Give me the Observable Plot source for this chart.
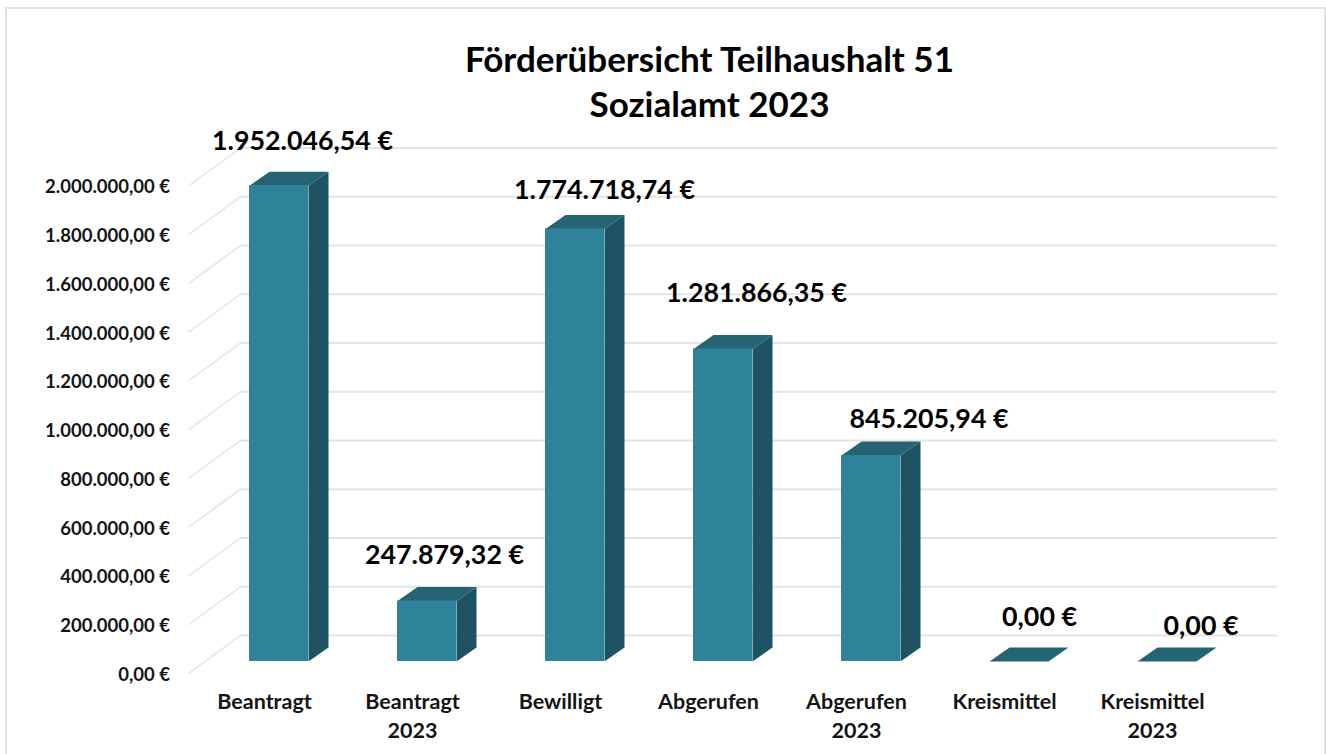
<!DOCTYPE html>
<html><head><meta charset="utf-8">
<script src="https://cdn.jsdelivr.net/npm/d3@7"></script>
<script src="https://cdn.jsdelivr.net/npm/@observablehq/plot@0.6"></script>
<style>
html,body{margin:0;padding:0;background:#fff;overflow:hidden}
#wrap{position:relative;width:1326px;height:754px}
#border{position:absolute;left:5px;top:7px;width:1321px;height:760px;border:2px solid #e2e2e2;box-sizing:border-box}
svg{position:absolute;left:0;top:0}
</style></head><body><div id="wrap"><div id="border"></div></div>
<script>
const categories = ["Beantragt","Beantragt\n2023","Bewilligt","Abgerufen","Abgerufen\n2023","Kreismittel","Kreismittel\n2023"];
const values = [1952046.54,247879.32,1774718.74,1281866.35,845205.94,0,0];
const valueLabels = ["1.952.046,54 €","247.879,32 €","1.774.718,74 €","1.281.866,35 €","845.205,94 €","0,00 €","0,00 €"];
const tickValues = [0,200000,400000,600000,800000,1000000,1200000,1400000,1600000,1800000,2000000];
const tickLabels = ["0,00 €","200.000,00 €","400.000,00 €","600.000,00 €","800.000,00 €","1.000.000,00 €","1.200.000,00 €","1.400.000,00 €","1.600.000,00 €","1.800.000,00 €","2.000.000,00 €"];
const title = "Förderübersicht Teilhaushalt 51\nSozialamt 2023";

// pixel-to-data conversions for the 3D extrusion
const pxX = 1/148, pxY = 200000/48.75;
const halfBar = 29.5*pxX, depthX = 20*pxX, depthY = 14*pxY;
const rows = categories.map((c,i)=>({i,c,v:values[i],l:valueLabels[i]}));
const poly = (face)=>rows.flatMap(r=>{
  const a=r.i-halfBar,b=r.i+halfBar,t=r.v;
  const pts = face==="top"
    ? [[a,t],[b,t],[b+depthX,t+depthY],[a+depthX,t+depthY]]
    : [[b,0],[b+depthX,depthY],[b+depthX,t+depthY],[b,t]];
  return pts.map(([x,y])=>({x,y,z:r.i}));
});
const labelOffsets = [[23.5,-44],[17.5,-45.6],[29.5,-38.5],[33.5,-55.6],[58,-36],[20.5,-44],[34,-35]];
const font = "Lato, 'Liberation Sans', sans-serif";
const grey = "#e3e3e3";

const chart = Plot.plot({
  width:1326,height:754,
  marginLeft:188,marginRight:49,marginTop:173.5,marginBottom:93,
  style:{fontFamily:font,background:"transparent",overflow:"visible"},
  x:{type:"linear",domain:[-90.5*pxX,998.5*pxX+0],axis:null},
  y:{type:"linear",domain:[0,2000000],axis:null},
  marks:[
    Plot.ruleY(tickValues,{y:d=>d,x1:-38.5*pxX,x2:998.5*pxX,dy:-26,stroke:grey,strokeWidth:2}),
    Plot.link(tickValues,{x1:-90.5*pxX,x2:-38.5*pxX,y1:d=>d-12*pxY,y2:d=>d+26*pxY,stroke:grey,strokeWidth:1.5}),
    Plot.axisY({ticks:tickValues,tickFormat:d=>tickLabels[tickValues.indexOf(d)],tickSize:0,tickPadding:18.5,dy:13.5,fontSize:18.5,fontWeight:700,fill:"#141414"}),
    Plot.axisX({ticks:d3.range(categories.length),tickFormat:i=>categories[i],tickSize:0,tickPadding:26,dx:-14.5,fontSize:21.5,fontWeight:700,fill:"#141414",lineHeight:1.38}),
    Plot.line(poly("side"),{x:"x",y:"y",z:"z",fill:"#1f5363",stroke:"none",curve:"linear-closed"}),
    Plot.line(poly("top"),{x:"x",y:"y",z:"z",fill:"#256473",stroke:"none",curve:"linear-closed"}),
    Plot.rect(rows,{x1:d=>d.i-halfBar,x2:d=>d.i+halfBar,y1:0,y2:"v",fill:"#2e8299"}),
    ...rows.map((r,k)=>Plot.text([r],{x:"i",y:"v",text:"l",dx:labelOffsets[k][0],dy:labelOffsets[k][1],fontSize:26.8,fontWeight:700,fill:"#000"})),
    Plot.text([title],{frameAnchor:"top",dx:-23.5,dy:-135,fontSize:35,fontWeight:700,lineHeight:1.31,fill:"#000",lineAnchor:"top"})
  ]
});
document.getElementById("wrap").appendChild(chart);
</script></body></html>
